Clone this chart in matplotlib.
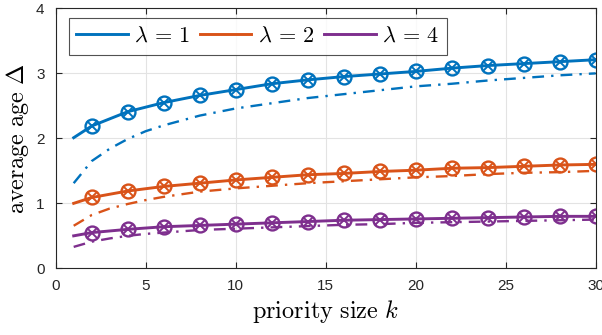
import matplotlib
matplotlib.use("Agg")
import matplotlib.pyplot as plt

plt.rcParams['mathtext.fontset'] = 'cm'
plt.rcParams['font.family'] = ['Liberation Sans', 'DejaVu Sans']

# data
k_line = [1, 2, 4, 6, 8, 10, 12, 14, 16, 18, 20, 22, 24, 26, 28, 30]
k_mark = [2, 4, 6, 8, 10, 12, 14, 16, 18, 20, 22, 24, 26, 28, 30]
k_dash = [1, 2, 3, 4, 5, 6, 8, 10, 12, 14, 16, 18, 20, 22, 24, 26, 28, 30]

solid_l1 = [2.01, 2.19, 2.41, 2.55, 2.66, 2.75, 2.84, 2.90, 2.95, 2.99, 3.03, 3.08, 3.12, 3.15, 3.18, 3.21]
solid_l2 = [1.00, 1.09, 1.19, 1.26, 1.31, 1.36, 1.40, 1.44, 1.46, 1.49, 1.51, 1.54, 1.55, 1.57, 1.59, 1.60]
solid_l4 = [0.50, 0.55, 0.60, 0.64, 0.66, 0.68, 0.70, 0.72, 0.74, 0.75, 0.76, 0.77, 0.78, 0.79, 0.80, 0.80]

sim_l1 = [2.19, 2.41, 2.55, 2.66, 2.75, 2.84, 2.90, 2.95, 2.99, 3.03, 3.08, 3.12, 3.15, 3.18, 3.21]
sim_l2 = [1.09, 1.19, 1.26, 1.31, 1.36, 1.40, 1.44, 1.46, 1.49, 1.51, 1.54, 1.55, 1.57, 1.59, 1.60]
sim_l4 = [0.55, 0.60, 0.64, 0.66, 0.68, 0.70, 0.72, 0.74, 0.75, 0.76, 0.77, 0.78, 0.79, 0.80, 0.80]

dash_l1 = [1.31, 1.65, 1.84, 1.99, 2.11, 2.20, 2.35, 2.46, 2.54, 2.62, 2.68, 2.74, 2.80, 2.84, 2.89, 2.93, 2.97, 3.00]
dash_l2 = [0.655, 0.82, 0.92, 0.99, 1.05, 1.10, 1.18, 1.23, 1.27, 1.31, 1.34, 1.37, 1.40, 1.42, 1.45, 1.47, 1.48, 1.50]
dash_l4 = [0.33, 0.41, 0.46, 0.50, 0.53, 0.55, 0.59, 0.61, 0.63, 0.65, 0.67, 0.68, 0.70, 0.71, 0.72, 0.73, 0.74, 0.75]

labels = [r'$\lambda\,=\,1$', r'$\lambda\,=\,2$', r'$\lambda\,=\,4$']
colors = ["#0072BD", "#D95319", "#7E2F8E"]

fig = plt.figure(figsize=(6.02, 3.35), dpi=100)
ax = fig.add_axes([0.0925, 0.199, 0.897, 0.776])

solids = [solid_l1, solid_l2, solid_l4]
sims = [sim_l1, sim_l2, sim_l4]
dashes = [dash_l1, dash_l2, dash_l4]

handles = []
for i in range(3):
    h, = ax.plot(k_line, solids[i], color=colors[i], lw=2.1, label=labels[i])
    handles.append(h)
    ax.plot(k_dash, dashes[i], color=colors[i], lw=1.7, linestyle=(0, (5, 3, 1, 3)))
    ax.plot(k_mark, sims[i], linestyle="none", marker="o", ms=10, mfc="none",
            mec=colors[i], mew=1.7)
    ax.plot(k_mark, sims[i], linestyle="none", marker="x", ms=6.5,
            mec=colors[i], mew=1.4)

ax.set_xlim(0, 30)
ax.set_ylim(0, 4)
ax.set_xticks([0, 5, 10, 15, 20, 25, 30])
ax.set_yticks([0, 1, 2, 3, 4])
ax.grid(True, color="#e3e3e3", lw=0.8)
ax.set_axisbelow(True)
ax.tick_params(direction="in", length=4, labelsize=11, colors="#262626",
               top=True, right=True, labeltop=False, labelright=False)
ax.tick_params(axis="x", pad=8)
ax.tick_params(axis="y", pad=8)
for s in ax.spines.values():
    s.set_color("#262626")
    s.set_linewidth(0.8)

ax.set_xlabel(r'$\mathrm{priority\ size}\ k$', fontsize=17.5, labelpad=3)
ax.set_ylabel(r'$\mathrm{average\ age}\ \Delta$', fontsize=17.5, labelpad=4)

leg = ax.legend(handles=handles, ncol=3, loc="upper left", bbox_to_anchor=(0.024, 0.962),
                fontsize=16, frameon=True, fancybox=False, handlelength=2.3,
                columnspacing=0.45, handletextpad=0.3, borderpad=0.35,
                borderaxespad=0)
leg.get_frame().set_edgecolor("#262626")
leg.get_frame().set_linewidth(0.8)

fig.savefig("out.png", dpi=100)
